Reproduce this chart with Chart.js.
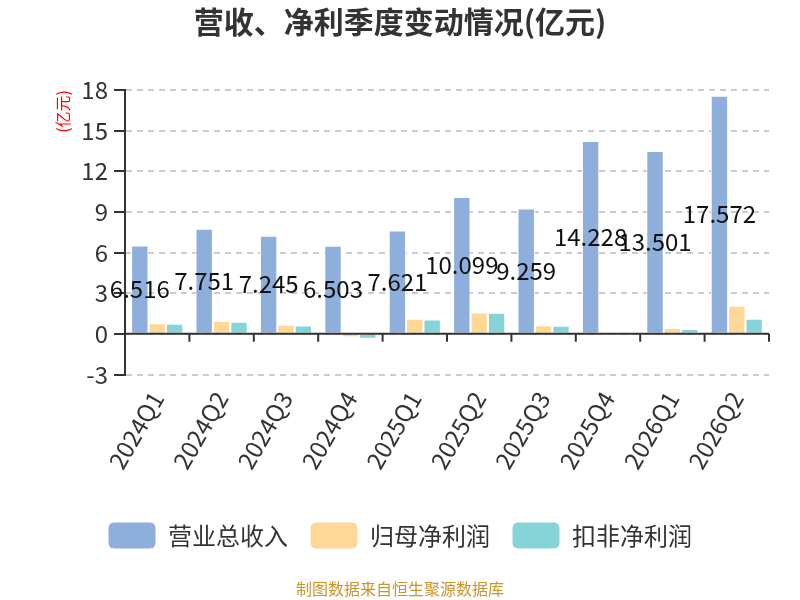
<!DOCTYPE html>
<html><head><meta charset="utf-8">
<script src="https://cdn.jsdelivr.net/npm/chart.js@4/dist/chart.umd.min.js"></script>
<style>html,body{margin:0;padding:0;background:#fff}#wrap{width:800px;height:600px}</style>
</head><body><div id="wrap"><canvas id="c" width="800" height="600"></canvas></div>
<script>
const categories = ['2024Q1','2024Q2','2024Q3','2024Q4','2025Q1','2025Q2','2025Q3','2025Q4','2026Q1','2026Q2'];
const revenue = [6.516,7.751,7.245,6.503,7.621,10.099,9.259,14.228,13.501,17.572];
const netProfit = [0.79,0.94,0.67,-0.25,1.11,1.58,0.64,0.02,0.44,2.07];
const deductedProfit = [0.74,0.89,0.61,-0.37,1.06,1.55,0.59,-0.06,0.35,1.11];
const seriesNames = ['营业总收入','归母净利润','扣非净利润'];
const yTicks = [-3,0,3,6,9,12,15,18];

const FONT = '"Noto Sans CJK SC","Noto Sans",sans-serif';

const labelPlugin = {
  id: 'barLabels',
  afterDatasetsDraw(chart) {
    const ctx = chart.ctx;
    const meta = chart.getDatasetMeta(0);
    ctx.save();
    ctx.font = '24px ' + FONT;
    ctx.fillStyle = '#111';
    ctx.textAlign = 'center';
    ctx.textBaseline = 'middle';
    meta.data.forEach((el, i) => {
      ctx.fillText(String(revenue[i]), el.x, (el.y + el.base) / 2);
    });
    ctx.restore();
  }
};

const zeroAxisPlugin = {
  id: 'zeroAxis',
  afterDatasetsDraw(chart) {
    const ctx = chart.ctx;
    const y = chart.scales.y;
    const y0 = y.getPixelForValue(0);
    ctx.save();
    ctx.strokeStyle = '#333';
    ctx.lineWidth = 2;
    ctx.beginPath();
    ctx.moveTo(chart.chartArea.left, y0);
    ctx.lineTo(chart.chartArea.right, y0);
    const n = categories.length;
    for (let i = 0; i <= n; i++) {
      const px = chart.chartArea.left + (chart.chartArea.right - chart.chartArea.left) * i / n;
      ctx.moveTo(px, y0);
      ctx.lineTo(px, y0 + 8);
    }
    ctx.stroke();
    ctx.restore();
  }
};

const footerPlugin = {
  id: 'footer',
  afterDraw(chart) {
    const ctx = chart.ctx;
    ctx.save();
    ctx.font = '16px ' + FONT;
    ctx.fillStyle = '#c9952b';
    ctx.textAlign = 'center';
    ctx.textBaseline = 'middle';
    ctx.fillText('制图数据来自恒生聚源数据库', 400, 589);
    ctx.restore();
  }
};

new Chart(document.getElementById('c'), {
  type: 'bar',
  data: {
    labels: categories,
    datasets: [
      {label: seriesNames[0], data: revenue, backgroundColor: '#8eaedb', borderColor: '#ffffff', borderWidth: 1},
      {label: seriesNames[1], data: netProfit, backgroundColor: '#ffd898', borderColor: '#ffffff', borderWidth: 1},
      {label: seriesNames[2], data: deductedProfit, backgroundColor: '#86d4d8', borderColor: '#ffffff', borderWidth: 1}
    ]
  },
  options: {
    responsive: false,
    animation: false,
    devicePixelRatio: 1,
    layout: {padding: {left: 31, right: 31, top: 0, bottom: 41}},
    datasets: {bar: {barPercentage: 1, categoryPercentage: 0.81}},
    plugins: {
      tooltip: {enabled: false},
      title: {display: true, text: '营收、净利季度变动情况(亿元)', color: '#333', font: {family: FONT, size: 30, weight: 'bold'}, padding: {top: 4, bottom: 50}},
      legend: {
        position: 'bottom',
        labels: {boxWidth: 48, boxHeight: 27, useBorderRadius: true, borderRadius: 6, color: '#333', font: {family: FONT, size: 24}, padding: 22}
      }
    },
    scales: {
      x: {
        grid: {display: false},
        border: {display: false},
        ticks: {color: '#333', font: {family: FONT, size: 24}, minRotation: 60, maxRotation: 60, padding: 4},
        afterFit(scale) { scale.height += 22; }
      },
      y: {
        min: -3, max: 18,
        afterBuildTicks(scale) { scale.ticks = yTicks.map(v => ({value: v})); },
        afterFit(scale) { scale.width = 94; },
        ticks: {color: '#333', font: {family: FONT, size: 24}, padding: 6},
        grid: {color: '#cccccc', lineWidth: 2, tickColor: '#333', tickLength: 11, tickBorderDash: [], tickWidth: 2},
        border: {display: true, color: '#333', width: 2, dash: [6, 5]},
        title: {display: true, text: '(亿元)', color: 'red', align: 'end', font: {family: FONT, size: 16}, padding: {top: 22, bottom: 6}}
      }
    }
  },
  plugins: [labelPlugin, zeroAxisPlugin, footerPlugin]
});
</script></body></html>
